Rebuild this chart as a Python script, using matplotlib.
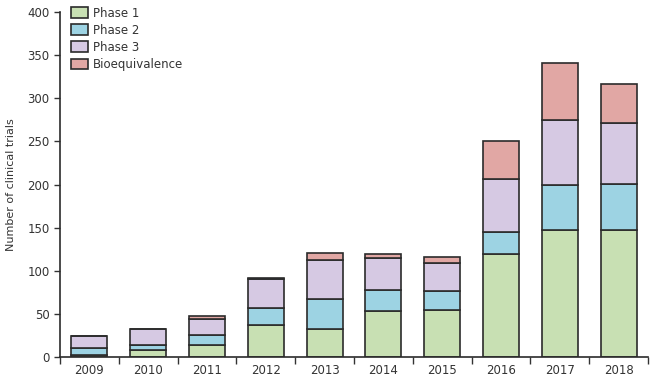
import matplotlib
matplotlib.use("Agg")
import matplotlib.pyplot as plt
import numpy as np

years = ["2009", "2010", "2011", "2012", "2013", "2014", "2015", "2016", "2017", "2018"]
phase1 = [2, 8, 14, 37, 32, 53, 55, 119, 147, 147]
phase2 = [8, 6, 11, 20, 35, 25, 22, 26, 52, 54]
phase3 = [14, 18, 19, 34, 46, 37, 32, 61, 76, 70]
bioequivalence = [0, 0, 4, 1, 8, 4, 7, 44, 66, 46]

series = [("Phase 1", phase1, "#c8e0b3"),
          ("Phase 2", phase2, "#9dd3e3"),
          ("Phase 3", phase3, "#d6c9e3"),
          ("Bioequivalence", bioequivalence, "#e1a7a4")]

fig = plt.figure(figsize=(6.57, 3.79), dpi=100)
ax = fig.add_axes([0.0913, 0.058, 0.895, 0.91])

x = np.arange(len(years))
bottom = np.zeros(len(years))
for name, vals, color in series:
    ax.bar(x, vals, width=0.61, bottom=bottom, color=color, edgecolor="#2b2b2b",
           linewidth=1.2, label=name)
    bottom += np.array(vals)

ax.set_xlim(-0.5, len(years) - 0.5)
ax.set_ylim(0, 400)
ax.set_yticks(range(0, 401, 50))
ax.set_xticks(x)
ax.set_xticklabels(years)
ax.set_xticks(np.arange(-0.5, len(years), 1), minor=True)
ax.tick_params(axis="x", which="major", length=0, pad=5, labelsize=8.5, colors="#333333")
ax.tick_params(axis="x", which="minor", length=5, width=1, color="#333333")
ax.tick_params(axis="y", length=4, width=1, labelsize=8.5, colors="#333333")

for s in ["top", "right"]:
    ax.spines[s].set_visible(False)
for s in ["left", "bottom"]:
    ax.spines[s].set_linewidth(1.2)
    ax.spines[s].set_color("#2b2b2b")

ax.set_ylabel("Number of clinical trials", fontsize=8, color="#333333", labelpad=8)

leg = ax.legend(loc="upper left", bbox_to_anchor=(0.01, 1.03), frameon=False,
                fontsize=8.5, handlelength=1.5, handleheight=1.0,
                handletextpad=0.4, labelspacing=0.35, borderaxespad=0)
for t in leg.get_texts():
    t.set_color("#333333")

fig.savefig("out.png", dpi=100)
